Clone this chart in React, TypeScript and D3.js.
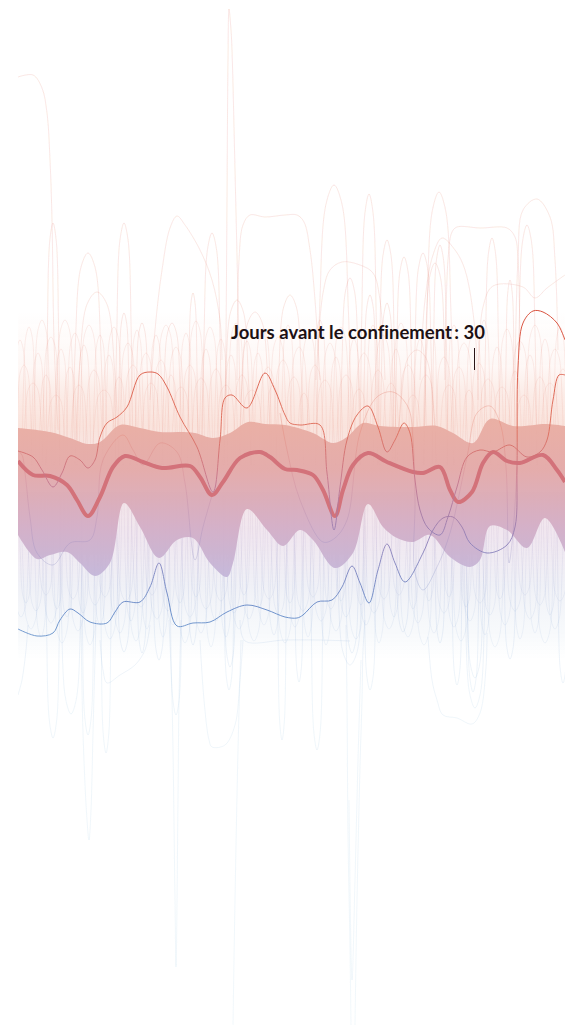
import React from "react";
import * as d3 from "d3";

// t = sample position along the period, v = level around the national baseline
type P = [number, number];
type B = [number, number, number]; // t of an arch, level at its crest, half-width

const bandTop: P[] = [[0,97],[32,93],[52,87],[70,81],[82,83],[102,100],[122,97],[142,93],[162,93],[177,92],[195,87],[212,92],[230,103],[247,101],[267,100],[295,92],[315,82],[329,88],[345,102],[362,99],[395,98],[419,99],[435,92],[455,82],[472,106],[495,99],[529,101],[547,99]];
const bandBottom: P[] = [[0,-10],[19,-34],[32,-30],[49,-27],[62,-38],[77,-51],[92,-38],[106,22],[122,-2],[141,-33],[159,-15],[175,-13],[192,-38],[209,-52],[215,-38],[229,16],[249,-5],[265,-21],[282,-5],[295,-15],[317,-43],[335,-28],[350,21],[365,-2],[379,-13],[395,-17],[412,-10],[432,-32],[452,-42],[462,-35],[472,-1],[489,-5],[509,-23],[527,7],[547,-27]];
const median: P[] = [[0,64],[15,50],[32,49],[49,40],[59,25],[70,9],[82,28],[95,58],[107,69],[125,63],[144,57],[172,59],[182,48],[194,30],[205,43],[222,67],[242,73],[252,68],[267,56],[279,55],[295,50],[305,35],[317,9],[325,35],[335,60],[350,72],[369,63],[395,53],[405,52],[422,58],[432,35],[440,23],[454,33],[465,62],[475,73],[489,64],[502,62],[525,70],[539,55],[547,43]];
const highlightA: P[] = [[0,74],[15,68],[24,55],[35,38],[44,52],[52,69],[62,65],[70,57],[77,65],[82,88],[89,102],[99,108],[109,118],[122,150],[132,153],[140,151],[149,138],[162,108],[179,78],[195,33],[202,85],[207,127],[214,130],[229,117],[247,152],[257,135],[267,110],[272,102],[282,100],[302,100],[309,52],[316,-5],[322,38],[329,85],[339,110],[350,119],[360,98],[369,73],[377,85],[386,102],[392,92],[397,45],[402,15],[410,-3],[422,-10],[430,8],[439,38],[449,68],[462,75],[475,73],[492,80],[509,68],[522,73],[529,85],[535,125],[541,150],[547,150]];
const highlightB: P[] = [[0,-104],[19,-111],[35,-108],[42,-95],[52,-84],[60,-88],[72,-97],[89,-98],[97,-87],[105,-77],[122,-77],[132,-62],[141,-38],[149,-68],[159,-101],[175,-98],[192,-97],[209,-87],[229,-80],[249,-85],[267,-92],[279,-93],[285,-90],[299,-77],[314,-75],[324,-62],[334,-41],[342,-58],[351,-78],[360,-45],[369,-19],[377,-38],[387,-57],[405,-28],[415,-5],[425,7],[435,8],[444,-2],[452,-18],[469,-28],[489,-20],[497,-2],[499,58],[500,158],[505,202],[515,214],[525,213],[539,202],[547,185]];
const mediumLines: P[][] = [
  [[0,74],[4,70],[7,52],[12,8],[19,-28],[35,-40],[52,-18],[72,-15],[79,8],[85,65],[105,90],[115,75],[125,60],[142,82],[159,73],[167,42],[177,-35],[185,-2],[195,33]],
  [[262,112],[269,75],[282,25],[305,-17],[317,-13],[329,5],[342,92],[359,128],[375,133],[390,118],[395,85],[397,25],[397,-48],[405,-65],[419,-42],[432,-8],[449,68],[459,112],[472,119],[482,102],[488,58],[491,-38],[495,-8],[499,58]],
];
const faintLines: P[][] = [
  [[0,448],[15,450],[24,437],[29,412],[32,365],[34,305],[36,185],[40,95]],
  [[207,95],[208,185],[209,325],[210,465],[211,516],[213,495],[214,475],[217,355],[220,225],[222,125]],
  [[132,125],[137,195],[144,255],[152,297],[159,309],[167,300],[182,275],[194,245],[202,205],[204,165]],
  [[219,145],[221,265],[225,300],[232,310],[247,308],[267,310],[279,310],[286,303],[292,275],[297,225],[302,145]],
  [[427,145],[430,265],[434,293],[439,298],[462,297],[489,297],[497,288],[500,265],[502,175]],
  [[497,145],[500,265],[505,315],[519,326],[532,308],[537,265],[540,175]],
  [[298,145],[305,232],[312,255],[324,263],[342,260],[355,252],[362,225],[367,145]],
  [[460,145],[465,218],[475,239],[505,238],[517,227],[529,237],[547,250]],
  [[402,145],[407,225],[415,270],[424,287],[437,275],[447,255],[457,195],[460,125]],
  [[82,-115],[85,-145],[89,-158],[102,-150],[117,-140],[127,-125],[132,-100]],
  [[182,-115],[186,-175],[191,-215],[194,-222],[207,-220],[217,-200],[222,-155],[225,-115]],
  [[222,-95],[227,-116],[267,-115],[300,-115],[332,-116]],
  [[223,-115],[220,-225],[217,-375],[215,-500]],
  [[151,-95],[154,-175],[157,-375],[158,-442],[160,-275],[161,-175],[163,-95]],
  [[63,-95],[65,-208],[69,-295],[71,-315],[73,-285],[75,-208],[78,-95]],
  [[328,-100],[329,-175],[330,-308],[332,-425],[333,-500]],
  [[337,-500],[339,-375],[342,-242],[344,-175],[345,-125],[347,-95]],
  [[331,-275],[334,-455],[337,-355],[340,-235],[343,-135]],
  [[410,-112],[414,-155],[419,-175],[425,-190],[439,-193],[454,-199],[462,-188],[468,-142],[469,-108]],
  [[0,-170],[4,-155],[8,-125],[10,-100]],
];
const upperArches: B[] = [[35,302,7],[70,272,16],[79,233,22],[106,302,9],[106,212,6],[124,202,7],[194,292,10],[175,232,5],[154,202,10],[219,225,14],[237,213,16],[272,230,14],[316,340,18],[351,331,9],[369,285,9],[386,268,9],[421,333,15],[405,272,10],[422,280,8],[474,287,8],[509,300,10],[492,245,5],[332,247,10],[417,262,12],[352,230,7],[369,222,7],[399,175,20]];
const upperDense: B[] = [[2,185,7],[6,160,8],[11,198,7],[15,142,10],[20,172,7],[24,205,9],[28,150,7],[33,188,9],[38,130,10],[43,176,7],[47,205,10],[52,158,7],[57,192,9],[61,140,9],[66,180,7],[71,200,10],[76,155,9],[82,190,7],[86,135,12],[91,170,7],[96,198,9],[101,148,7],[110,182,9],[115,160,10],[119,195,7],[128,172,9],[133,142,10],[138,190,7],[143,165,9],[148,200,10],[153,150,7],[158,178,9],[163,138,10],[168,192,7],[172,160,9],[178,204,9],[183,147,10],[188,176,7],[192,198,9],[198,156,9],[203,186,7],[208,140,10],[213,170,7],[218,202,9],[224,150,9],[229,184,7],[234,135,12],[240,172,7],[245,196,9],[250,158,9],[255,140,7],[260,188,9],[265,165,10],[270,200,7],[276,148,9],[281,178,10],[286,132,7],[291,192,9],[297,160,9],[302,205,7],[307,145,10],[312,182,9],[318,168,7],[323,198,9],[328,150,10],[336,186,7],[341,136,9],[346,172,10],[355,200,7],[360,155,9],[365,190,10],[373,142,9],[378,176,7],[383,202,9],[390,160,10],[395,130,9],[402,186,7],[408,150,10],[413,195,7],[426,168,9],[431,140,10],[436,200,7],[441,158,9],[446,182,10],[451,135,7],[456,194,9],[461,162,9],[466,205,7],[470,146,10],[479,178,7],[484,138,10],[489,196,9],[497,154,7],[502,184,10],[506,130,9],[512,170,7],[517,200,10],[522,148,9],[527,186,7],[532,142,10],[537,176,9],[542,198,7],[545,156,9]];
const lowerArches: B[] = [[35,-213,8],[53,-189,12],[70,-210,7],[88,-228,6],[106,-127,8],[124,-128,6],[141,-135,7],[158,-190,7],[175,-120,6],[211,-165,6],[212,-142,7],[264,-215,5],[281,-157,5],[299,-225,7],[352,-165,7],[332,-140,15],[334,-128,8],[439,-160,6],[457,-153,10],[457,-183,12],[455,-167,7],[492,-134,7],[545,-158,6],[422,-118,6],[385,-107,8]];
const lowerDense: B[] = [[3,-92,9],[8,-78,7],[13,-104,10],[18,-86,9],[23,-112,7],[28,-70,9],[33,-98,10],[39,-84,7],[44,-118,10],[49,-92,7],[55,-74,9],[60,-106,10],[65,-88,7],[72,-120,9],[77,-80,10],[82,-100,7],[87,-72,9],[92,-114,10],[97,-90,7],[102,-108,9],[108,-76,10],[113,-96,7],[118,-116,9],[123,-82,10],[129,-104,7],[134,-70,9],[139,-94,10],[145,-112,7],[150,-86,9],[155,-100,10],[162,-78,7],[167,-118,9],[172,-92,10],[178,-72,7],[183,-108,9],[188,-84,10],[193,-122,7],[198,-96,9],[203,-76,10],[208,-112,7],[216,-88,9],[221,-104,10],[226,-70,7],[231,-94,9],[236,-116,10],[241,-82,7],[246,-100,9],[251,-74,10],[256,-110,7],[261,-90,9],[267,-118,10],[272,-78,7],[277,-102,9],[285,-86,10],[290,-112,7],[295,-72,9],[303,-96,10],[308,-120,7],[313,-84,9],[318,-106,10],[323,-76,7],[328,-92,9],[338,-114,10],[343,-80,7],[348,-100,9],[356,-88,10],[361,-118,7],[366,-74,9],[371,-104,10],[376,-92,7],[381,-70,9],[390,-112,10],[395,-84,7],[400,-98,9],[406,-120,10],[411,-76,7],[416,-108,9],[426,-88,10],[431,-72,7],[436,-102,9],[443,-116,10],[448,-82,7],[452,-96,9],[462,-78,10],[467,-110,7],[472,-90,9],[477,-122,10],[482,-74,7],[487,-100,9],[497,-86,10],[502,-114,7],[507,-70,9],[512,-94,10],[517,-108,7],[522,-80,9],[527,-118,10],[532,-90,7],[537,-104,9],[542,-76,10]];
const massTop: P[] = [[0,215],[100,215],[250,215],[400,215],[547,215]];
const massBottom: P[] = [[0,-135],[100,-135],[250,-135],[400,-135],[547,-135]];
const archShape: P[] = [[-1,0],[-0.8,0.55],[-0.45,0.93],[0,1],[0.45,0.93],[0.8,0.55],[1,0]];
const lineStops: [number, string][] = [[214,"#d5402a"],[95,"#de6b58"],[45,"#c5768c"],[-15,"#8f7fb8"],[-85,"#5f86c6"],[-175,"#7ab0d6"],[-500,"#8cc0de"]];
const bandStops: [number, string, number][] = [[103,"#e9ada2",0.95],[55,"#e3a9a8",0.95],[0,"#d4aec6",0.95],[-52,"#c3b6d9",0.95]];
const massStops: [number, string, number][] = [[215,"#f8d8cf",0],[160,"#f9dcd3",0.2],[130,"#f9dcd3",0.55],[100,"#f9dfd7",0.85],[-10,"#efe4ee",0.9],[-60,"#edeef5",0.85],[-105,"#eef2f7",0.5],[-135,"#eef4f8",0]];
const dayLabel = "Jours avant le confinement\u2009: 30";
const tickLevels: [number, number] = [177, 155];
const tickAt = 456;

const W = 565, H = 1025;
const x = d3.scaleLinear().domain([0, 547]).range([18, 565]);
const y = d3.scaleLinear().domain([525, -500]).range([0, H]);
const line = d3.line<P>().x(d => x(d[0])).y(d => y(d[1])).curve(d3.curveCatmullRom.alpha(0.5));
const arch = ([t, v, w]: B, base: number) => line(archShape.map(([a, b]) => [t + a * w, base + b * (v - base)] as P)) as string;
const ribbon = (a: P[], b: P[]) => (line(a) as string) + "L" + (line([...b].reverse()) as string).slice(1) + "Z";
const grad = (id: string, stops: [number, string, number?][]) => {
  const top = y(stops[0][0]), bottom = y(stops[stops.length - 1][0]);
  return (
    <linearGradient id={id} gradientUnits="userSpaceOnUse" x1={0} x2={0} y1={top} y2={bottom}>
      {stops.map(([v, c, o], i) => (
        <stop key={i} offset={(y(v) - top) / (bottom - top)} stopColor={c} stopOpacity={o ?? 1} />
      ))}
    </linearGradient>
  );
};

export default function App() {
  return (
    <svg width={W} height={H} viewBox={`0 0 ${W} ${H}`} style={{ position: "absolute", left: 0, top: 0, display: "block" }}>
      <defs>
        {grad("lineGrad", lineStops)}
        {grad("bandGrad", bandStops)}
        {grad("massGrad", massStops)}
        <clipPath id="plot"><rect x={x(0)} y={0} width={x(547) - x(0)} height={H} /></clipPath>
        <filter id="soft" x="0" y="0" width="100%" height="100%" filterUnits="userSpaceOnUse"><feGaussianBlur stdDeviation={0.35} /></filter>
      </defs>
      <g clipPath="url(#plot)" fill="none">
        <g filter="url(#soft)">
          <path d={ribbon(massTop, massBottom)} fill="url(#massGrad)" />
          <g stroke="url(#lineGrad)" strokeWidth={0.7} strokeOpacity={0.13}>
            {upperDense.map((b, i) => <path key={i} d={arch(b, 60)} />)}
            {lowerDense.map((b, i) => <path key={i} d={arch(b, 30)} />)}
          </g>
          <g stroke="url(#lineGrad)" strokeWidth={0.7} strokeOpacity={0.17}>
            {upperArches.map((b, i) => <path key={i} d={arch(b, 60)} />)}
            {lowerArches.map((b, i) => <path key={i} d={arch(b, 30)} />)}
            {faintLines.map((l, i) => <path key={i} d={line(l) as string} />)}
          </g>
          <path d={ribbon(bandTop, bandBottom)} fill="url(#bandGrad)" />
          <g stroke="url(#lineGrad)" strokeWidth={0.8} strokeOpacity={0.32}>
            {mediumLines.map((l, i) => <path key={i} d={line(l) as string} />)}
          </g>
          <path d={line(median) as string} stroke="#d3727a" strokeWidth={4} strokeLinejoin="round" />
          <g stroke="url(#lineGrad)" strokeWidth={1} strokeOpacity={0.9}>
            <path d={line(highlightA) as string} />
            <path d={line(highlightB) as string} />
          </g>
        </g>
      </g>
      <line x1={x(tickAt) + 0.5} x2={x(tickAt) + 0.5} y1={y(tickLevels[0])} y2={y(tickLevels[1])} stroke="#2a1416" strokeWidth={1} />
      <text x={231} y={339} fontFamily="Lato, 'Open Sans', sans-serif" fontWeight={700} fontSize={18.5} fill="#1d1114" textLength={254} lengthAdjust="spacing" style={{ fontVariantLigatures: "none" }}>{dayLabel}</text>
    </svg>
  );
}
